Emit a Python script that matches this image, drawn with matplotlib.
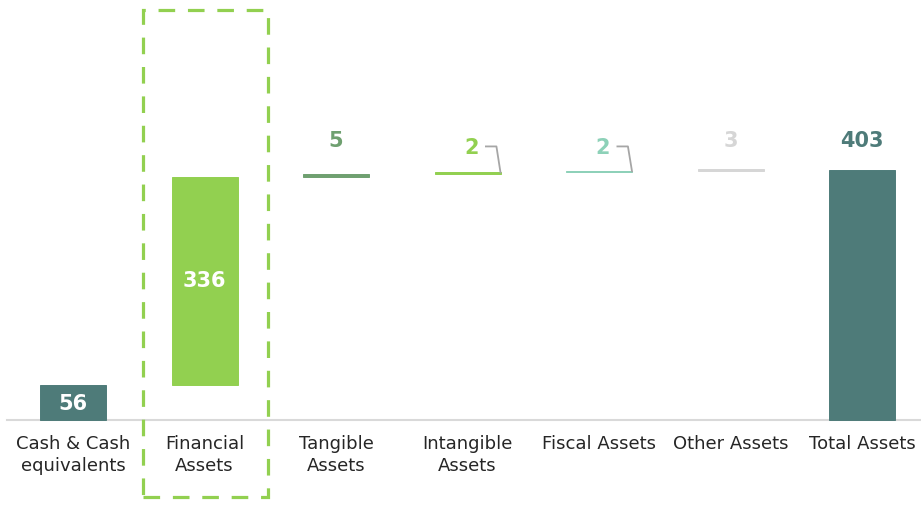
import matplotlib
matplotlib.use("Agg")
import matplotlib.pyplot as plt
from matplotlib.patches import Rectangle

categories = ["Cash & Cash\nequivalents", "Financial\nAssets", "Tangible\nAssets",
              "Intangible\nAssets", "Fiscal Assets", "Other Assets", "Total Assets"]
values = [56, 336, 5, 2, 2, 3, 403]
labels = ["56", "336", "5", "2", "2", "3", "403"]
colors = ["#4e7b79", "#92d050", "#6fa070", "#92d050", "#8dd1b8", "#d6d6d6", "#4e7b79"]
label_colors = ["white", "white", "#6fa070", "#92d050", "#8dd1b8", "#d6d6d6", "#4e7b79"]

plt.rcParams['font.family'] = ['DejaVu Sans']

fig = plt.figure(figsize=(9.21, 5.09), dpi=100)
ax = fig.add_axes([0, 0, 1, 1])
px_per_unit = 250 / 403
ax.set_xlim(-73 / 131.5, (921 - 73) / 131.5)
ax.set_ylim(-(509 - 420) / px_per_unit, 420 / px_per_unit)
for s in ax.spines.values():
    s.set_visible(False)
ax.set_yticks([])
ax.set_xticks([])

x = list(range(len(values)))
bottoms = []
run = 0
for i, v in enumerate(values):
    if i == len(values) - 1:
        bottoms.append(0)
    else:
        bottoms.append(run)
        run += v

w = 66 / 131.5
ax.bar(x, values, bottom=bottoms, width=w, color=colors, edgecolor=colors,
       linewidth=0.7, zorder=3)

# axis line
ax.plot([-0.5, 6.6], [0, 0], color="#d9d9d9", lw=1.5, zorder=2, clip_on=False)

# category labels
for i, c in enumerate(categories):
    ax.text(i, -(435 - 420) / px_per_unit, c, ha='center', va='top',
            fontsize=13, color="#262626", linespacing=1.3)

# value labels
num_kw = dict(ha='center', va='center', fontsize=15, fontweight='bold', zorder=4)
for i, v in enumerate(values):
    top = bottoms[i] + v
    if i == 0:
        ax.text(i, bottoms[i] + v / 2 - 3, labels[i], color=label_colors[i], **num_kw)
    elif i == 1:
        ax.text(i, bottoms[i] + v / 2, labels[i], color=label_colors[i], **num_kw)
    elif i in (3, 4):
        ax.text(i + 0.03, 438, labels[i], color=label_colors[i], **num_kw)
        # leader bracket
        xs = [i + 0.14, i + 0.22, i + w / 2]
        ys = [441, 441, top]
        ax.plot(xs, ys, color="#a6a6a6", lw=1.3, zorder=4)
    else:
        ax.text(i, 449, labels[i], color=label_colors[i], **num_kw)

# dashed highlight box
x0 = (143 - 73) / 131.5
x1 = (268 - 73) / 131.5
y0 = -(497 - 420) / px_per_unit
y1 = (420 - 10) / px_per_unit
rect = Rectangle((x0, y0), x1 - x0, y1 - y0, fill=False, edgecolor="#92d050",
                 lw=2.3, linestyle=(0, (5.2, 4)), clip_on=False, zorder=5)
ax.add_patch(rect)

fig.savefig("out.png", dpi=100)
